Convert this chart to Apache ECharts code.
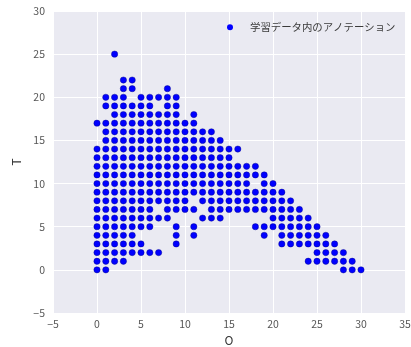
<!DOCTYPE html>
<html>
<head>
<meta charset="utf-8">
<script src="https://cdn.jsdelivr.net/npm/echarts@6/dist/echarts.min.js"></script>
<style>
  html, body { margin: 0; padding: 0; background: #ffffff; }
  #chart { width: 411px; height: 347px; }
</style>
</head>
<body>
<div id="chart"></div>
<script>
// Annotation positions: for each T level, the O values that carry an annotation
const tLevels = [25, 22, 21, 20, 19, 18, 17, 16, 15, 14, 13, 12, 11, 10, 9, 8, 7, 6, 5, 4, 3, 2, 1, 0];
const oAtT25 = [2];
const oAtT22 = [3, 4];
const oAtT21 = [3, 4, 8];
const oAtT20 = [1, 2, 3, 5, 6, 7, 8, 9];
const oAtT19 = [1, 2, 3, 4, 5, 6, 8, 9];
const oAtT18 = [2, 3, 4, 5, 6, 7, 8, 9, 11];
const oAtT17 = [0, 1, 2, 3, 4, 5, 6, 7, 8, 9, 10, 11];
const oAtT16 = [1, 2, 3, 4, 5, 6, 7, 8, 9, 10, 11, 12, 13];
const oAtT15 = [1, 2, 3, 4, 5, 6, 7, 8, 9, 10, 11, 12, 13, 14];
const oAtT14 = [0, 1, 2, 3, 4, 5, 6, 7, 8, 9, 10, 11, 12, 13, 14, 15, 16];
const oAtT13 = [0, 1, 2, 3, 4, 5, 6, 7, 8, 9, 10, 11, 12, 13, 14, 15];
const oAtT12 = [0, 1, 2, 3, 4, 5, 6, 7, 8, 9, 10, 11, 12, 13, 14, 15, 16, 17, 18];
const oAtT11 = [0, 1, 2, 3, 4, 5, 6, 7, 8, 9, 10, 11, 12, 13, 14, 15, 16, 17, 18, 19];
const oAtT10 = [0, 1, 2, 3, 4, 5, 6, 7, 8, 9, 10, 11, 12, 13, 14, 15, 16, 17, 19, 20];
const oAtT9 = [0, 1, 2, 3, 4, 5, 6, 7, 8, 9, 10, 11, 12, 13, 14, 15, 16, 17, 18, 19, 20, 21];
const oAtT8 = [0, 1, 2, 3, 4, 5, 6, 7, 8, 9, 10, 12, 13, 14, 15, 16, 17, 18, 19, 20, 21, 22];
const oAtT7 = [0, 1, 2, 3, 4, 5, 6, 8, 9, 10, 11, 13, 14, 15, 16, 17, 18, 19, 20, 21, 22, 23];
const oAtT6 = [0, 1, 2, 3, 4, 5, 6, 7, 8, 12, 13, 14, 20, 21, 22, 23, 24];
const oAtT5 = [0, 1, 2, 3, 4, 5, 6, 9, 11, 18, 19, 20, 21, 22, 23, 24, 25];
const oAtT4 = [0, 1, 2, 3, 4, 9, 11, 19, 21, 22, 23, 24, 25, 26];
const oAtT3 = [0, 1, 2, 3, 4, 5, 9, 21, 22, 23, 24, 25, 26, 27];
const oAtT2 = [0, 1, 2, 3, 4, 5, 6, 7, 25, 26, 27, 28];
const oAtT1 = [0, 1, 2, 3, 24, 25, 26, 27, 28, 29];
const oAtT0 = [0, 1, 28, 29, 30];

const oRows = [oAtT25, oAtT22, oAtT21, oAtT20, oAtT19, oAtT18, oAtT17, oAtT16, oAtT15,
  oAtT14, oAtT13, oAtT12, oAtT11, oAtT10, oAtT9, oAtT8, oAtT7, oAtT6, oAtT5, oAtT4,
  oAtT3, oAtT2, oAtT1, oAtT0];

const seriesName = '学習データ内のアノテーション';
const xAxisName = 'O';
const yAxisName = 'T';

const points = [];
tLevels.forEach((t, i) => {
  oRows[i].forEach(o => points.push([o, t]));
});

const fontFamily = '"Noto Sans CJK JP", "Noto Sans", sans-serif';
const minusFmt = v => String(v).replace('-', '\u2212');

const chart = echarts.init(document.getElementById('chart'), null, { renderer: 'canvas' });
chart.setOption({
  backgroundColor: '#ffffff',
  animation: false,
  textStyle: { fontFamily: fontFamily },
  grid: {
    left: 53, right: 6, top: 11, bottom: 34,
    outerBoundsMode: 'none',
    containLabel: false,
    backgroundColor: '#eaeaf2', show: true, borderWidth: 0
  },
  legend: {
    left: 222,
    top: 17,
    itemWidth: 6,
    itemHeight: 6,
    icon: 'circle',
    itemStyle: { borderWidth: 0 },
    textStyle: { color: '#3a3a3a', fontSize: 10.4, fontFamily: fontFamily, padding: [0, 0, 0, 12] },
    data: [{ name: seriesName, icon: 'circle' }]
  },
  xAxis: {
    type: 'value',
    min: -5, max: 35, interval: 5,
    name: xAxisName,
    nameLocation: 'middle',
    nameGap: 20,
    nameTextStyle: { color: '#333333', fontSize: 12, fontFamily: fontFamily },
    axisLine: { show: false },
    axisTick: { show: false },
    axisLabel: { color: '#555555', fontSize: 10.5, margin: 6, formatter: minusFmt },
    splitLine: { show: true, lineStyle: { color: '#ffffff', width: 1 } }
  },
  yAxis: {
    type: 'value',
    min: -5, max: 30, interval: 5,
    name: yAxisName,
    nameLocation: 'middle',
    nameGap: 28,
    nameTextStyle: { color: '#333333', fontSize: 12, fontFamily: fontFamily },
    axisLine: { show: false },
    axisTick: { show: false },
    axisLabel: { color: '#555555', fontSize: 10.5, margin: 8, formatter: minusFmt },
    splitLine: { show: true, lineStyle: { color: '#ffffff', width: 1 } }
  },
  series: [{
    name: seriesName,
    type: 'scatter',
    data: points,
    symbol: 'circle',
    symbolSize: 6.3,
    itemStyle: { color: '#0000ff', borderColor: '#000080', borderWidth: 0.4, opacity: 1 }
  }]
});
</script>
</body>
</html>
